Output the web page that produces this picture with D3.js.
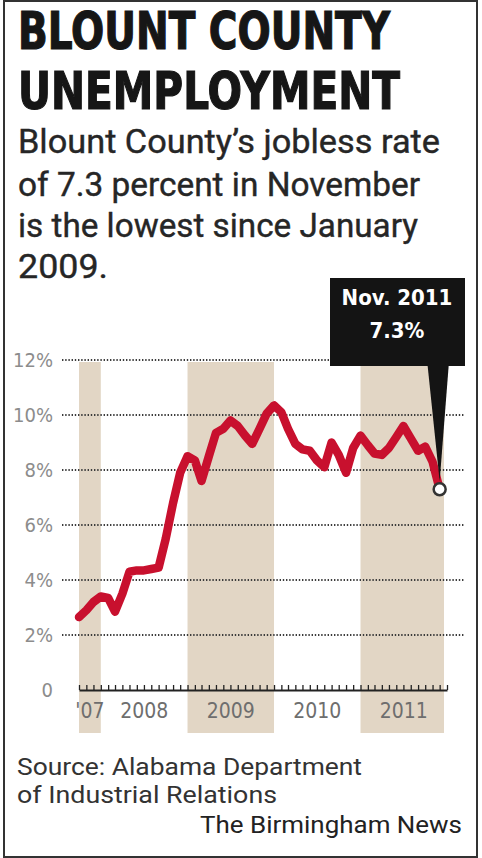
<!DOCTYPE html>
<html>
<head>
<meta charset="utf-8">
<script src="https://cdn.jsdelivr.net/npm/d3@7"></script>
<style>
  html, body { margin: 0; padding: 0; background: #fff; }
  svg { display: block; }
  .cond { font-family: "DejaVu Sans Condensed", "DejaVu Sans", sans-serif; font-stretch: condensed; }
  .din { font-family: Roboto, "Noto Sans", sans-serif; }
</style>
</head>
<body>
<svg width="482" height="858"></svg>
<script>
// monthly jobless rate, Sept. 2007 - Nov. 2011
var startMonth = new Date(2007, 8, 1);
var rates = [2.65, 2.9, 3.2, 3.4,
  3.35, 2.85, 3.5, 4.3, 4.35, 4.35, 4.4, 4.45, 5.5, 6.8, 7.9, 8.5,
  8.35, 7.6, 8.5, 9.35, 9.5, 9.8, 9.6, 9.25, 8.95, 9.5, 10.05, 10.35,
  10.1, 9.5, 8.95, 8.75, 8.7, 8.35, 8.1, 9.0, 8.55, 7.9, 8.8, 9.25,
  8.9, 8.6, 8.55, 8.8, 9.2, 9.6, 9.15, 8.7, 8.85, 8.3, 7.3];
var yTicks = [2, 4, 6, 8, 10, 12];
var yearLabels = ["'07", "2008", "2009", "2010", "2011"];
var yearStarts = [2007, 2008, 2009, 2010, 2011];
var shadedYears = [2007, 2009, 2011];
var calloutLines = ["Nov. 2011", "7.3%"];

var svg = d3.select('svg');

var x = d3.scaleTime().domain([new Date(2007, 9, 1), new Date(2012, 0, 1)]).range([79, 447]);
var y = d3.scaleLinear().domain([0, 12]).range([690, 360]);

var data = rates.map(function(v, i) {
  // each month is plotted at its end
  return { date: d3.timeMonth.offset(startMonth, i + 1), v: v };
});

function yearSpan(yr) {
  var a = Math.max(+new Date(yr, 0, 1), +x.domain()[0]);
  var b = Math.min(+new Date(yr + 1, 0, 1), +x.domain()[1]);
  return [x(new Date(a)), x(new Date(b))];
}

// frame
svg.append('rect').attr('x', 4).attr('y', 1).attr('width', 473).attr('height', 856)
  .attr('fill', 'none').attr('stroke', '#333').attr('stroke-width', 2);

// title
svg.append('text').attr('class', 'cond').attr('x', 18).attr('y', 49).attr('font-size', 52).attr('font-weight', 'bold')
  .attr('fill', '#161616').attr('stroke', '#161616').attr('stroke-width', 1.2)
  .attr('textLength', 372).attr('lengthAdjust', 'spacingAndGlyphs').text('BLOUNT COUNTY');
svg.append('text').attr('class', 'cond').attr('x', 18).attr('y', 109).attr('font-size', 52).attr('font-weight', 'bold')
  .attr('fill', '#161616').attr('stroke', '#161616').attr('stroke-width', 1.2)
  .attr('textLength', 382).attr('lengthAdjust', 'spacingAndGlyphs').text('UNEMPLOYMENT');

var sub = [["Blount County\u2019s jobless rate", 153, 422], ["of 7.3 percent in November", 196, 402],
           ["is the lowest since January", 237, 400], ["2009.", 278, 90]];
sub.forEach(function(s) {
  svg.append('text').attr('class', 'din').attr('x', 18).attr('y', s[1]).attr('font-size', 34)
    .attr('fill', '#262626').attr('stroke', '#262626').attr('stroke-width', 0.4)
    .attr('textLength', s[2]).attr('lengthAdjust', 'spacingAndGlyphs').text(s[0]);
});

// shaded years
svg.selectAll('.band').data(shadedYears).enter().append('rect')
  .attr('x', function(d) { return yearSpan(d)[0]; })
  .attr('width', function(d) { return Math.min(yearSpan(d)[1], 444) - yearSpan(d)[0]; })
  .attr('y', 362).attr('height', 733 - 362)
  .attr('fill', '#e2d6c5');

// gridlines
svg.selectAll('.grid').data(yTicks).enter().append('line')
  .attr('x1', 62).attr('x2', 465)
  .attr('y1', function(d) { return y(d); }).attr('y2', function(d) { return y(d); })
  .attr('stroke', '#3c3c3c').attr('stroke-width', 2).attr('stroke-dasharray', '1.4,1.8');

// y labels
svg.selectAll('.ylab').data([0].concat(yTicks)).enter().append('text')
  .attr('class', 'cond').attr('x', 53).attr('y', function(d) { return y(d) + 7; })
  .attr('text-anchor', 'end').attr('font-size', 20).attr('fill', '#8c8c8c')
  .text(function(d) { return d === 0 ? '0' : d + '%'; });

// x axis with monthly ticks pointing up
var xAxis = d3.axisTop(x).ticks(d3.timeMonth.every(1)).tickSize(5).tickSizeOuter(0).tickFormat('');
var gx = svg.append('g').attr('transform', 'translate(0,690)').call(xAxis);
gx.select('.domain').attr('stroke', '#222').attr('stroke-width', 2.2);
gx.selectAll('.tick line').attr('stroke', '#222').attr('stroke-width', 1.3);

// year labels
svg.selectAll('.xlab').data(yearStarts).enter().append('text')
  .attr('class', 'cond').attr('x', function(d) { var s = yearSpan(d); return (s[0] + s[1]) / 2; })
  .attr('y', 718).attr('text-anchor', 'middle').attr('font-size', 21).attr('fill', '#6e6e6e')
  .text(function(d, i) { return yearLabels[i]; });

// line
var line = d3.line().x(function(d) { return x(d.date); }).y(function(d) { return y(d.v); });
svg.append('path').datum(data).attr('d', line).attr('fill', 'none')
  .attr('stroke', '#c8102e').attr('stroke-width', 8.5)
  .attr('stroke-linejoin', 'round').attr('stroke-linecap', 'round');

// callout
var last = data[data.length - 1];
var lx = x(last.date), ly = y(last.v);
svg.append('path')
  .attr('d', 'M' + (lx - 12) + ',366 L' + (lx + 9) + ',366 L' + lx + ',' + (ly - 8) + 'Z')
  .attr('fill', '#141414');
svg.append('rect').attr('x', 330).attr('y', 278).attr('width', 135).attr('height', 88).attr('fill', '#141414');
svg.selectAll('.clab').data(calloutLines).enter().append('text')
  .attr('class', 'cond').attr('x', 397).attr('y', function(d, i) { return 305 + i * 33; })
  .attr('text-anchor', 'middle').attr('font-size', 22).attr('font-weight', 'bold').attr('fill', '#fff')
  .text(function(d) { return d; });

svg.append('circle').attr('cx', lx).attr('cy', ly).attr('r', 6)
  .attr('fill', '#fff').attr('stroke', '#333').attr('stroke-width', 2.5);

// source
svg.append('text').attr('class', 'din').attr('x', 17).attr('y', 775).attr('font-size', 23)
  .attr('fill', '#333').attr('textLength', 345).attr('lengthAdjust', 'spacingAndGlyphs').text('Source: Alabama Department');
svg.append('text').attr('class', 'din').attr('x', 17).attr('y', 803).attr('font-size', 23)
  .attr('fill', '#333').attr('textLength', 260).attr('lengthAdjust', 'spacingAndGlyphs').text('of Industrial Relations');
svg.append('text').attr('class', 'din').attr('x', 200).attr('y', 833).attr('font-size', 23)
  .attr('fill', '#222').attr('textLength', 262).attr('lengthAdjust', 'spacingAndGlyphs').text('The Birmingham News');
</script>
</body>
</html>
